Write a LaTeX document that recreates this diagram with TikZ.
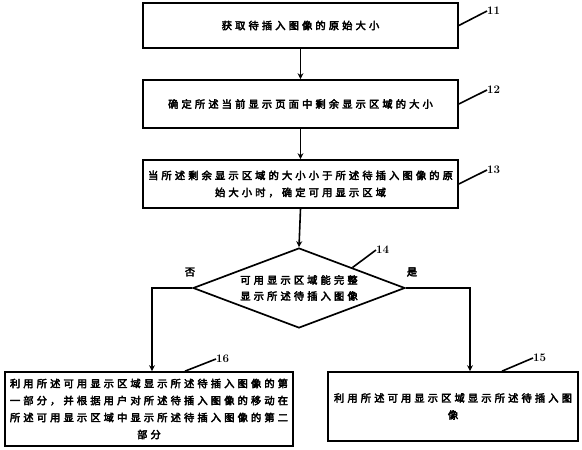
\documentclass[tikz,border=0pt]{standalone}
\usepackage{fontspec}
\newfontfamily\cjk[LetterSpace=30,FakeBold=3.5]{Noto Sans CJK SC}
\usetikzlibrary{shapes.geometric,arrows.meta}
\begin{document}
\begin{tikzpicture}[x=1pt,y=-1pt,
  box/.style={draw,line width=1.7pt,rectangle,inner sep=0pt,align=center,
    font=\cjk\fontsize{10.3}{17}\selectfont},
  dec/.style={draw,line width=1.7pt,diamond,inner sep=0pt,align=center,
    font=\cjk\fontsize{10.3}{16}\selectfont},
  flow/.style={line width=1.6pt,-{Stealth[length=6pt,width=6pt]}},
  lead/.style={line width=1.6pt},
  num/.style={font=\bfseries\fontsize{11.5}{11.5}\selectfont,inner sep=0pt,anchor=west},
  yn/.style={font=\cjk\fontsize{10.3}{10}\selectfont,inner sep=0pt}]
\useasboundingbox (0,0) rectangle (582,450);
\node[box,minimum width=315,minimum height=45] (b11) at (300.5,25.5) {获取待插入图像的原始大小};
\node[box,minimum width=315,minimum height=48] (b12) at (300.5,104) {确定所述当前显示页面中剩余显示区域的大小};
\node[box,minimum width=315,minimum height=48] (b13) at (300.5,184) {当所述剩余显示区域的大小小于所述待插入图像的原\\始大小时，确定可用显示区域};
\node[dec,minimum width=212,minimum height=80,aspect=2.65] (d14) at (299,288) {可用显示区域能完整\\显示所述待插入图像};
\node[box,minimum width=288,minimum height=74] (b16) at (149,409) {利用所述可用显示区域显示所述待插入图像的第\\一部分，并根据用户对所述待插入图像的移动在\\所述可用显示区域中显示所述待插入图像的第二\\部分};
\node[box,minimum width=250,minimum height=69] (b15) at (453,406.5) {利用所述可用显示区域显示所述待插入图\\像};
\node[num] (l11) at (487,11) {11};
\node[num] (l12) at (487,90) {12};
\node[num] (l13) at (487,170) {13};
\node[num] (l14) at (376,250) {14};
\node[num] (l16) at (216,359) {16};
\node[num] (l15) at (533,358) {15};
\node[yn] (no) at (190,272) {否};
\node[yn] (yes) at (412,272) {是};
\draw[flow] (b11.south) -- (b12.north);
\draw[flow] (b12.south) -- (b13.north);
\draw[flow] (b13.south) -- (d14.north);
\draw[flow] (d14.west) -| ([xshift=3]b16.north);
\draw[flow] (d14.east) -| ([xshift=17]b15.north);
\draw[lead] (b11.east) -- (l11.west);
\draw[lead] (b12.east) -- (l12.west);
\draw[lead] (b13.east) -- (l13.west);
\draw[lead] (d14.north east) -- (l14.west);
\draw[lead] ([xshift=36]b16.north) -- (l16.west);
\draw[lead] ([xshift=49]b15.north) -- (l15.west);
\end{tikzpicture}
\end{document}
